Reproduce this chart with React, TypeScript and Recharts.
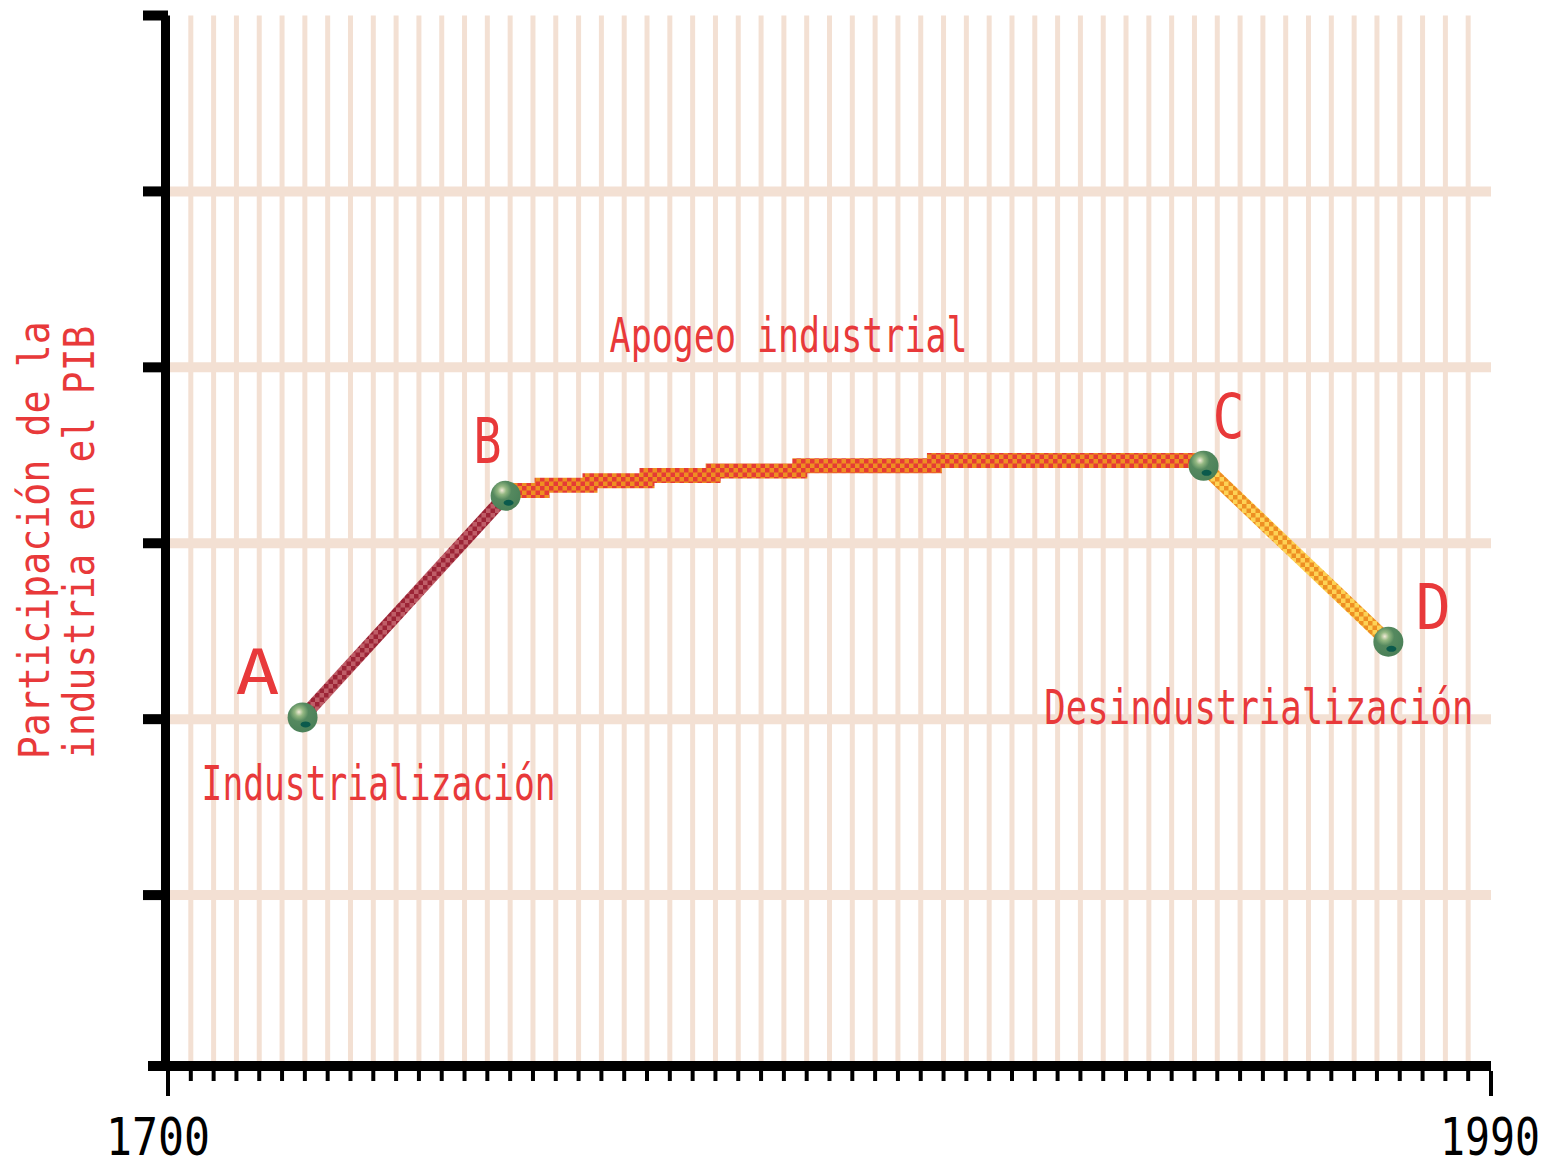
import { CartesianGrid, Label, Line, LineChart, XAxis, YAxis } from "recharts";

// turning points A-D: year, share of industry (arbitrary units)
const pointYears = [1729.5, 1774, 1927, 1967.5];
const pointShares = [2.01, 3.27, 3.44, 2.44];
const pointNames = ["A", "B", "C", "D"];

// the plateau B -> C is drawn as small steps
const plateauYears = [1774, 1782, 1792.5, 1805, 1819.5, 1838.5, 1868, 1927];
const plateauShares = [3.3, 3.33, 3.355, 3.385, 3.41, 3.44, 3.47, 3.47];

const phaseNames = ["Industrialización", "Apogeo industrial", "Desindustrialización"];

const yTicks = [0, 1, 2, 3, 4, 5, 6];
const yGrid = [1, 2, 3, 4, 5];
const xTicks = Array.from({ length: 59 }, (_, i) => 1700 + i * 5);
const xGrid = xTicks.slice(1, -1);
const xLabels = [1700, 1990];
const yTitle = ["Participación de la", "industria en el PIB"];

const points = pointYears.map((year, i) => ({ year, share: pointShares[i], name: pointNames[i] }));
const rise = points.slice(0, 2);
const decline = points.slice(2, 4);
const plateau = plateauYears.map((year, i) => ({ year, share: plateauShares[i] }));

const RED = "#e8393a";
const GRID = "#f3e0d3";
const FONT = "DejaVu Sans Mono";

const letterPos: Record<string, { dx: number; dy: number; len: number }> = {
  A: { dx: -45, dy: -23.7, len: 44 },
  B: { dx: -18, dy: -32.3, len: 28 },
  C: { dx: 25, dy: -27.6, len: 32 },
  D: { dx: 45, dy: -13, len: 35 },
};

// phase captions, placed relative to a turning point
const phasePos: Record<string, { text: string; dx: number; dy: number; len: number }> = {
  A: { text: phaseNames[0], dx: -101, dy: 82.6, len: 354 },
  B: { text: phaseNames[1], dx: 104, dy: -143.3, len: 358 },
  D: { text: phaseNames[2], dx: -344, dy: 82.7, len: 429 },
};

// the pixel font is tall and narrow: smaller size, stretched upwards
const Tall = ({ x, y, size, stretch, len, anchor, fill, children }: any) => (
  <text
    transform={`translate(${x} ${y}) scale(1 ${stretch})`}
    textAnchor={anchor ?? "start"}
    fontFamily={FONT}
    fontSize={size}
    fill={fill}
    textLength={len}
    lengthAdjust="spacingAndGlyphs"
  >
    {children}
  </text>
);

const renderPoint = (props: any) => {
  const { cx, cy, payload, index } = props;
  const l = letterPos[payload.name];
  const p = phasePos[payload.name];
  return (
    <g key={`pt-${index}`}>
      <circle cx={cx} cy={cy} r={15} fill="url(#ball)" />
      <ellipse cx={cx + 3} cy={cy + 7} rx={5} ry={3} fill="#0b5a4c" />
      <text
        x={cx + l.dx}
        y={cy + l.dy}
        textAnchor="middle"
        fontFamily={FONT}
        fontSize={62}
        fill={RED}
        textLength={l.len}
        lengthAdjust="spacingAndGlyphs"
      >
        {payload.name}
      </text>
      {p && (
        <Tall x={cx + p.dx} y={cy + p.dy} size={41} stretch={1.17} len={p.len} fill={RED}>
          {p.text}
        </Tall>
      )}
    </g>
  );
};

const renderXTick = (props: any) => {
  const { x, y, payload } = props;
  const v = payload.value;
  const major = xLabels.includes(v);
  const first = v === xLabels[0];
  return (
    <g>
      <line x1={x} x2={x} y1={y} y2={y + (major ? 25 : 10)} stroke="#000" strokeWidth={4} />
      {major && (
        <Tall
          x={first ? x - 62 : x - 51}
          y={y + 84}
          size={43}
          stretch={1.21}
          len={first ? 104 : 100}
          fill="#000"
        >
          {v}
        </Tall>
      )}
    </g>
  );
};

const renderYTick = (props: any) => {
  const { x, y, payload } = props;
  if (payload.value === 0) {
    return <line x1={x - 20} x2={x} y1={y - 5} y2={y - 5} stroke="#000" strokeWidth={10} />;
  }
  return <line x1={x - 25} x2={x} y1={y} y2={y} stroke="#000" strokeWidth={10} />;
};

const renderYTitle = (props: any) => {
  const vb = props.viewBox ?? { x: 108, y: 15.5, width: 60, height: 1055.5 };
  const mid = vb.y + vb.height / 2;
  const bases = [vb.x - 59, vb.x - 14];
  const centers = [mid - 3, mid - 1];
  const lens = [438, 433];
  return (
    <g>
      {yTitle.map((t, i) => (
        <text
          key={t}
          x={bases[i]}
          y={centers[i]}
          transform={`rotate(-90 ${bases[i]} ${centers[i]})`}
          textAnchor="middle"
          fontFamily={FONT}
          fontSize={43}
          fill={RED}
          textLength={lens[i]}
          lengthAdjust="spacingAndGlyphs"
        >
          {t}
        </text>
      ))}
    </g>
  );
};

const App = () => {
  return (
    <div style={{ position: "absolute", left: 0, top: 0, width: 1546, height: 1167, background: "#fff" }}>
      <LineChart width={1546} height={1167} margin={{ top: 15.5, right: 55, bottom: 0, left: 108 }}>
        <defs>
          <pattern id="chkRise" width={9} height={9} patternUnits="userSpaceOnUse">
            <rect width={9} height={9} fill="#bf5d67" />
            <rect width={4.5} height={4.5} fill="#9c2436" />
            <rect x={4.5} y={4.5} width={4.5} height={4.5} fill="#9c2436" />
          </pattern>
          <pattern id="chkTop" width={9} height={9} patternUnits="userSpaceOnUse">
            <rect width={9} height={9} fill="#ee8f22" />
            <rect width={4.5} height={4.5} fill="#e53a36" />
            <rect x={4.5} y={4.5} width={4.5} height={4.5} fill="#e53a36" />
          </pattern>
          <pattern id="chkFall" width={9} height={9} patternUnits="userSpaceOnUse">
            <rect width={9} height={9} fill="#fdd255" />
            <rect width={4.5} height={4.5} fill="#ee8f22" />
            <rect x={4.5} y={4.5} width={4.5} height={4.5} fill="#ee8f22" />
          </pattern>
          <radialGradient id="ball" cx="0.38" cy="0.32" r="0.7">
            <stop offset="0" stopColor="#f2ead8" />
            <stop offset="0.2" stopColor="#94b882" />
            <stop offset="0.45" stopColor="#55895f" />
            <stop offset="1" stopColor="#4a8058" />
          </radialGradient>
        </defs>
        <CartesianGrid horizontal={false} verticalValues={xGrid} stroke={GRID} strokeWidth={5} />
        <CartesianGrid vertical={false} horizontalValues={yGrid} stroke={GRID} strokeWidth={10} />
        <XAxis
          dataKey="year"
          type="number"
          domain={[1700, 1990]}
          ticks={xTicks}
          interval={0}
          height={96}
          tickSize={0}
          tickMargin={0}
          tickLine={false}
          tick={renderXTick}
          axisLine={{ stroke: "#000", strokeWidth: 10, transform: "translate(0,-5)" }}
        />
        <XAxis
          xAxisId="top"
          orientation="top"
          dataKey="year"
          type="number"
          domain={[1700, 1990]}
          height={0}
          tick={false}
          tickLine={false}
          axisLine={{ stroke: "#000", strokeWidth: 6, transform: "translate(0,-2.5)" }}
        />
        <YAxis
          type="number"
          domain={[0, 6]}
          ticks={yTicks}
          interval={0}
          width={60}
          tickSize={0}
          tickMargin={0}
          tickLine={false}
          tick={renderYTick}
          axisLine={{ stroke: "#000", strokeWidth: 9, transform: "translate(-2.5,0)" }}
        >
          <Label content={renderYTitle} />
        </YAxis>
        <YAxis
          yAxisId="right"
          orientation="right"
          type="number"
          domain={[0, 6]}
          width={0}
          tick={false}
          tickLine={false}
          axisLine={{ stroke: "#000", strokeWidth: 5 }}
        />
        <Line
          data={rise}
          dataKey="share"
          type="linear"
          stroke="url(#chkRise)"
          strokeWidth={13}
          dot={false}
          activeDot={false}
          isAnimationActive={false}
        />
        <Line
          data={plateau}
          dataKey="share"
          type="stepAfter"
          stroke="url(#chkTop)"
          strokeWidth={15}
          dot={false}
          activeDot={false}
          isAnimationActive={false}
        />
        <Line
          data={decline}
          dataKey="share"
          type="linear"
          stroke="url(#chkFall)"
          strokeWidth={14}
          dot={false}
          activeDot={false}
          isAnimationActive={false}
        />
        <Line
          data={points}
          dataKey="share"
          stroke="none"
          strokeWidth={0}
          dot={renderPoint}
          activeDot={false}
          isAnimationActive={false}
        />
      </LineChart>
    </div>
  );
};

export default App;
